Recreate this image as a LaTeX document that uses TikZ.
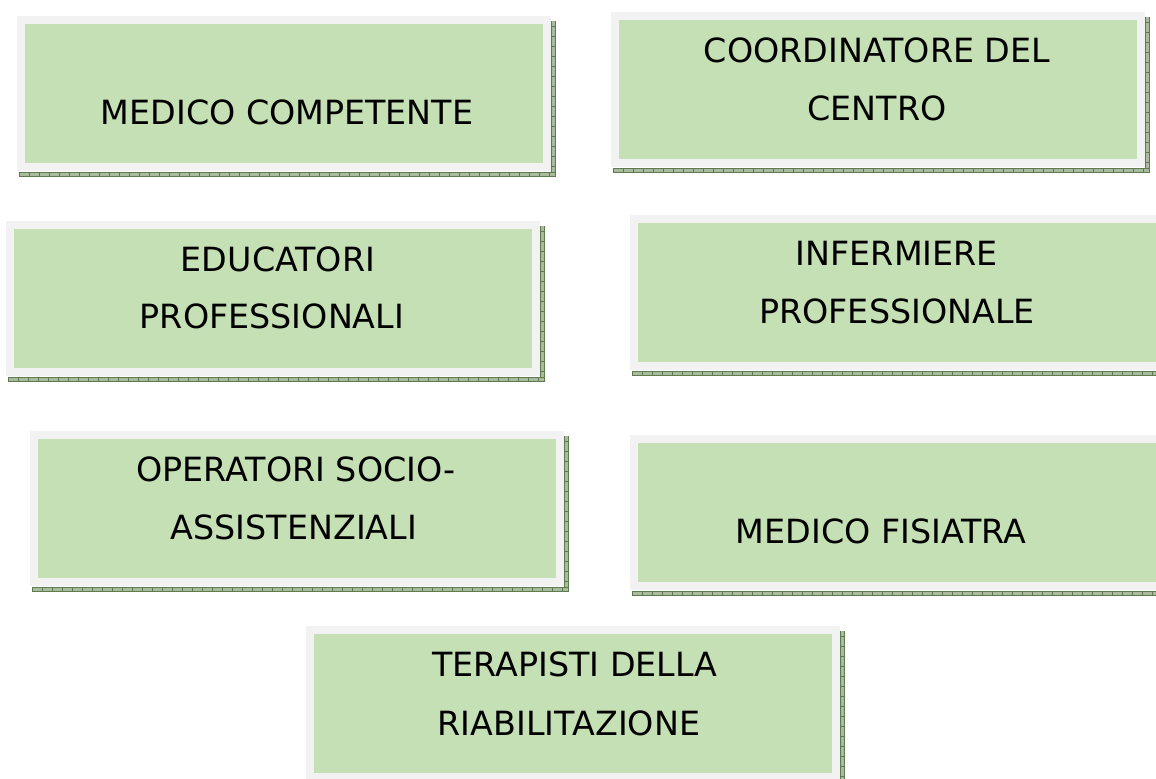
\documentclass[tikz,border=0pt]{standalone}
\usepackage{fontspec}
\setmainfont{DejaVu Sans}
\definecolor{frameg}{HTML}{F2F2F2}
\definecolor{boxg}{HTML}{C5E0B4}
\definecolor{shfill}{HTML}{A9BB9C}
\definecolor{shdark}{HTML}{5E7A50}
\tikzset{
  outerbox/.style={fill=frameg, draw=none, anchor=north west, inner sep=0pt,
    minimum width=400.5pt, minimum height=116.25pt},
  innerbox/.style={fill=boxg, draw=none, inner sep=0pt,
    minimum width=388.5pt, minimum height=104.25pt},
  lbl/.style={anchor=base, inner sep=0pt, text=black,
    font=\fontsize{25}{43.5}\selectfont},
  shstrip/.style={fill=shfill, draw=shdark, line width=0.4pt}
}
\newcommand\shadowbox[3]{%
  \fill[shfill] (#2+2,#3+156) rectangle (#2+538,#3+160);
  \fill[shfill] (#2+534,#3+5) rectangle (#2+538,#3+160);
  \draw[shdark, line width=0.35pt] (#2+2,#3+156) -- (#2+538,#3+156);
  \draw[shdark, line width=0.35pt] (#2+2,#3+160) -- (#2+538,#3+160) -- (#2+538,#3+5);
  \draw[shdark, line width=0.35pt] (#2+534,#3+5) -- (#2+534,#3+156);
  \foreach \t in {0,10,...,530} {\draw[shdark, line width=0.35pt] (#2+2+\t,#3+156) -- ++(0,4);}
  \foreach \t in {10,20,...,150} {\draw[shdark, line width=0.35pt] (#2+534,#3+\t) -- ++(4,0);}
  \node[outerbox] (#1) at (#2,#3) {};
  \node[innerbox] (#1in) at (#1.center) {};
}
\begin{document}
\begin{tikzpicture}[x=0.75pt,y=-0.75pt]
\useasboundingbox (0,0) rectangle (1156,778);
\clip (0,0) rectangle (1156,778);
\shadowbox{b1}{17}{16}
\shadowbox{b2}{611}{12}
\shadowbox{b3}{6}{221}
\shadowbox{b4}{630}{215}
\shadowbox{b5}{30}{431}
\shadowbox{b6}{630}{435}
\shadowbox{b7}{306}{626}
\node[lbl] (t1) at (287,124) {MEDICO COMPETENTE};
\node[lbl] (t2a) at (877,62) {COORDINATORE DEL};
\node[lbl] (t2b) at (877,120) {CENTRO};
\node[lbl] (t3a) at (278,271) {EDUCATORI};
\node[lbl] (t3b) at (272,328) {PROFESSIONALI};
\node[lbl] (t4a) at (897,265) {INFERMIERE};
\node[lbl] (t4b) at (897,323) {PROFESSIONALE};
\node[lbl] (t5a) at (296,481) {OPERATORI SOCIO-};
\node[lbl] (t5b) at (294,539) {ASSISTENZIALI};
\node[lbl] (t6) at (881,543) {MEDICO FISIATRA};
\node[lbl] (t7a) at (575,676) {TERAPISTI DELLA};
\node[lbl] (t7b) at (569,735) {RIABILITAZIONE};
\end{tikzpicture}
\end{document}
